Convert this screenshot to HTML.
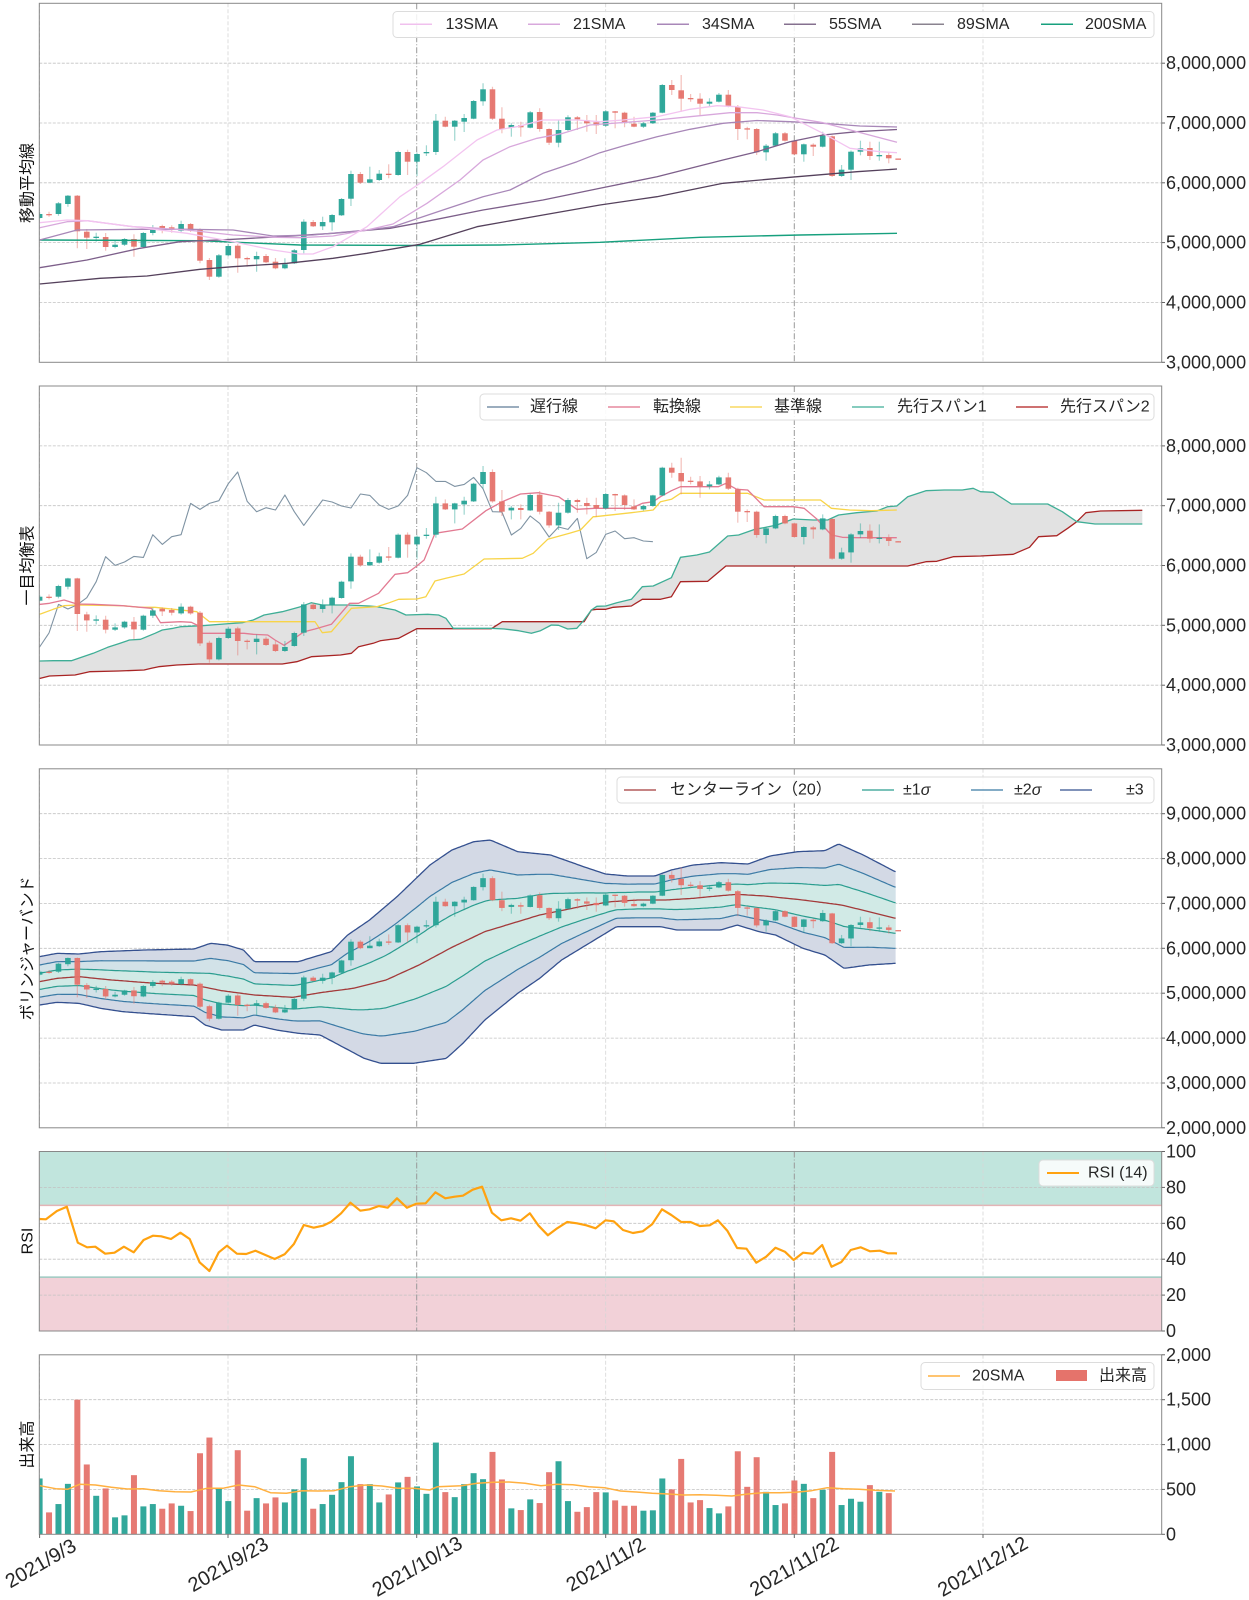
<!DOCTYPE html>
<html><head><meta charset="utf-8">
<style>
html,body{margin:0;padding:0;background:#fff;}
svg{display:block;font-family:"Liberation Sans","Noto Sans CJK JP",sans-serif;}
.tk{font-size:18px;fill:#262626;dominant-baseline:central;}
.lg{font-size:16px;fill:#262626;dominant-baseline:central;}
.yl{font-size:16px;fill:#111;}
.xl{font-size:20px;fill:#262626;}
</style></head><body>
<svg id="s" width="1249" height="1600" viewBox="0 0 1249 1600" xmlns="http://www.w3.org/2000/svg">
<defs>
<clipPath id="c1"><rect x="39.3" y="3.3" width="1122.4" height="359"/></clipPath>
<clipPath id="c2"><rect x="39.3" y="386" width="1122.4" height="359"/></clipPath>
<clipPath id="c3"><rect x="39.3" y="768.8" width="1122.4" height="359"/></clipPath>
<clipPath id="c4"><rect x="39.3" y="1151.5" width="1122.4" height="179.5"/></clipPath>
<clipPath id="c5"><rect x="39.3" y="1354.8" width="1122.4" height="179.5"/></clipPath>
</defs>
<rect x="0" y="0" width="1249" height="1600" fill="#fff"/>
<!-- RSI bands -->
<rect x="39.3" y="1151.5" width="1122.4" height="53.85" fill="#c1e5dd"/>
<rect x="39.3" y="1277.15" width="1122.4" height="53.85" fill="#f2d1d8"/>
<line x1="39.3" x2="1161.7" y1="1205.35" y2="1205.35" stroke="#e3b4b6" stroke-width="1.5"/>
<line x1="39.3" x2="1161.7" y1="1277.15" y2="1277.15" stroke="#9ccac2" stroke-width="1.5"/>
<g id="grid"></g>
<g id="g1" clip-path="url(#c1)"></g>
<g id="g2" clip-path="url(#c2)"></g>
<g id="g3" clip-path="url(#c3)"></g>
<g id="g4" clip-path="url(#c4)"></g>
<g id="g5" clip-path="url(#c5)"></g>
<g id="frames" fill="none" stroke="#888" stroke-width="1">
<rect x="39.3" y="3.3" width="1122.4" height="359"/>
<rect x="39.3" y="386" width="1122.4" height="359"/>
<rect x="39.3" y="768.8" width="1122.4" height="359"/>
<rect x="39.3" y="1151.5" width="1122.4" height="179.5"/>
<rect x="39.3" y="1354.8" width="1122.4" height="179.5"/>
</g>
<g id="ticks" stroke="#666" stroke-width="1"></g>

<!-- Y tick labels -->
<g>
<text class="tk" x="1166" y="63.2">8,000,000</text>
<text class="tk" x="1166" y="123">7,000,000</text>
<text class="tk" x="1166" y="182.8">6,000,000</text>
<text class="tk" x="1166" y="242.6">5,000,000</text>
<text class="tk" x="1166" y="302.5">4,000,000</text>
<text class="tk" x="1166" y="362.3">3,000,000</text>

<text class="tk" x="1166" y="445.9">8,000,000</text>
<text class="tk" x="1166" y="505.7">7,000,000</text>
<text class="tk" x="1166" y="565.5">6,000,000</text>
<text class="tk" x="1166" y="625.3">5,000,000</text>
<text class="tk" x="1166" y="685.2">4,000,000</text>
<text class="tk" x="1166" y="745">3,000,000</text>

<text class="tk" x="1166" y="813.7">9,000,000</text>
<text class="tk" x="1166" y="858.6">8,000,000</text>
<text class="tk" x="1166" y="903.4">7,000,000</text>
<text class="tk" x="1166" y="948.3">6,000,000</text>
<text class="tk" x="1166" y="993.2">5,000,000</text>
<text class="tk" x="1166" y="1038.1">4,000,000</text>
<text class="tk" x="1166" y="1083">3,000,000</text>
<text class="tk" x="1166" y="1127.8">2,000,000</text>

<text class="tk" x="1166" y="1151.5">100</text>
<text class="tk" x="1166" y="1187.4">80</text>
<text class="tk" x="1166" y="1223.3">60</text>
<text class="tk" x="1166" y="1259.2">40</text>
<text class="tk" x="1166" y="1295.1">20</text>
<text class="tk" x="1166" y="1331">0</text>

<text class="tk" x="1166" y="1354.8">2,000</text>
<text class="tk" x="1166" y="1399.7">1,500</text>
<text class="tk" x="1166" y="1444.6">1,000</text>
<text class="tk" x="1166" y="1489.4">500</text>
<text class="tk" x="1166" y="1534.3">0</text>
</g>

<!-- Y axis labels -->
<text class="yl" transform="translate(28,183) rotate(-90)" text-anchor="middle" dominant-baseline="central">移動平均線</text>
<text class="yl" transform="translate(28,565.5) rotate(-90)" text-anchor="middle" dominant-baseline="central">一目均衡表</text>
<text class="yl" transform="translate(28,948.3) rotate(-90)" text-anchor="middle" dominant-baseline="central">ボリンジャーバンド</text>
<text class="yl" transform="translate(28,1241) rotate(-90)" text-anchor="middle" dominant-baseline="central">RSI</text>
<text class="yl" transform="translate(28,1444.5) rotate(-90)" text-anchor="middle" dominant-baseline="central">出来高</text>

<!-- X labels -->
<text class="xl" transform="translate(41,1564) rotate(-30)" text-anchor="middle" dominant-baseline="central">2021/9/3</text>
<text class="xl" transform="translate(228.5,1565) rotate(-30)" text-anchor="middle" dominant-baseline="central">2021/9/23</text>
<text class="xl" transform="translate(417.5,1567) rotate(-30)" text-anchor="middle" dominant-baseline="central">2021/10/13</text>
<text class="xl" transform="translate(606,1565) rotate(-30)" text-anchor="middle" dominant-baseline="central">2021/11/2</text>
<text class="xl" transform="translate(794.5,1567) rotate(-30)" text-anchor="middle" dominant-baseline="central">2021/11/22</text>
<text class="xl" transform="translate(983,1567) rotate(-30)" text-anchor="middle" dominant-baseline="central">2021/12/12</text>

<!-- Legend P1 -->
<g>
<rect x="393" y="11.5" width="761" height="26" rx="4" fill="#fff" fill-opacity="0.85" stroke="#dcdcdc"/>
<line x1="400" x2="432" y1="24.3" y2="24.3" stroke="#f0c0ee" stroke-width="1.5"/>
<text class="lg" x="445.5" y="24.3">13SMA</text>
<line x1="528" x2="560" y1="24.3" y2="24.3" stroke="#d8a8dc" stroke-width="1.5"/>
<text class="lg" x="573" y="24.3">21SMA</text>
<line x1="657" x2="689" y1="24.3" y2="24.3" stroke="#a887b8" stroke-width="1.5"/>
<text class="lg" x="702" y="24.3">34SMA</text>
<line x1="784" x2="816" y1="24.3" y2="24.3" stroke="#85708f" stroke-width="1.5"/>
<text class="lg" x="829" y="24.3">55SMA</text>
<line x1="912" x2="944" y1="24.3" y2="24.3" stroke="#8a838f" stroke-width="1.5"/>
<text class="lg" x="957" y="24.3">89SMA</text>
<line x1="1041" x2="1073" y1="24.3" y2="24.3" stroke="#17a07e" stroke-width="1.5"/>
<text class="lg" x="1085" y="24.3">200SMA</text>
</g>
<!-- Legend P2 -->
<g>
<rect x="480" y="394" width="674" height="26" rx="4" fill="#fff" fill-opacity="0.85" stroke="#dcdcdc"/>
<line x1="487" x2="519" y1="407" y2="407" stroke="#5f7c96" stroke-width="1.3"/>
<text class="lg" x="530" y="407">遅行線</text>
<line x1="608" x2="640" y1="407" y2="407" stroke="#e0708a" stroke-width="1.3"/>
<text class="lg" x="653" y="407">転換線</text>
<line x1="730" x2="762" y1="407" y2="407" stroke="#f6d040" stroke-width="1.3"/>
<text class="lg" x="774" y="407">基準線</text>
<line x1="852" x2="884" y1="407" y2="407" stroke="#3fae96" stroke-width="1.3"/>
<text class="lg" x="897" y="407">先行スパン1</text>
<line x1="1016" x2="1048" y1="407" y2="407" stroke="#b01c1c" stroke-width="1.3"/>
<text class="lg" x="1060" y="407">先行スパン2</text>
</g>
<!-- Legend P3 -->
<g>
<rect x="617" y="777" width="537" height="26" rx="4" fill="#fff" fill-opacity="0.85" stroke="#dcdcdc"/>
<line x1="624" x2="656" y1="790" y2="790" stroke="#a33a3a" stroke-width="1.3"/>
<text class="lg" x="670" y="790">センターライン（20）</text>
<line x1="862" x2="894" y1="790" y2="790" stroke="#2a9d8f" stroke-width="1.3"/>
<text class="lg" x="903" y="790">±1<tspan font-style="italic">σ</tspan></text>
<line x1="971" x2="1003" y1="790" y2="790" stroke="#3a7aa5" stroke-width="1.3"/>
<text class="lg" x="1014" y="790">±2<tspan font-style="italic">σ</tspan></text>
<line x1="1060" x2="1092" y1="790" y2="790" stroke="#34508f" stroke-width="1.3"/>
<text class="lg" x="1126" y="790">±3</text>
</g>
<!-- Legend P4 -->
<g>
<rect x="1039" y="1160" width="115" height="26" rx="4" fill="#fff" fill-opacity="0.85" stroke="#dcdcdc"/>
<line x1="1047" x2="1079" y1="1173" y2="1173" stroke="#ffa210" stroke-width="2"/>
<text class="lg" x="1088" y="1173">RSI (14)</text>
</g>
<!-- Legend P5 -->
<g>
<rect x="921" y="1362.5" width="233" height="27" rx="4" fill="#fff" fill-opacity="0.85" stroke="#dcdcdc"/>
<line x1="928" x2="960" y1="1376" y2="1376" stroke="#ffb040" stroke-width="1.5"/>
<text class="lg" x="972" y="1376">20SMA</text>
<rect x="1056" y="1370" width="31" height="11" fill="#e5736b"/>
<text class="lg" x="1099" y="1376">出来高</text>
</g>
</svg>
<script>
(function(){
const NS='http://www.w3.org/2000/svg';
function el(tag,a,p){const e=document.createElementNS(NS,tag);for(const k in a)e.setAttribute(k,a[k]);p.appendChild(e);return e;}
function ptsStr(p){return p.map(q=>q[0].toFixed(1)+','+q[1].toFixed(1)).join(' ');}
function poly(p,a,g){return el('polyline',Object.assign({points:ptsStr(p),fill:'none','stroke-linejoin':'round'},a),g);}
function interp(p,x){if(x<=p[0][0])return p[0][1];for(let i=1;i<p.length;i++){if(x<=p[i][0]){const a=p[i-1],b=p[i];return a[1]+(b[1]-a[1])*(x-a[0])/(b[0]-a[0]);}}return p[p.length-1][1];}
function mono(p){const r=[];for(const q of p){if(!r.length||q[0]>r[r.length-1][0]+0.01)r.push(q);}return r;}

const X0=39.6,DX=9.435;const xi=i=>X0+i*DX;
const G='#27a396',R='#e5736b';
const C=[
[218,214,212,219],[214,214.5,211.7,216.7],[214,203.3,202,215.7],[204,195.7,195,206.7],[195.7,231.3,195,248.3],
[231.7,237.7,229,249],[238,236.7,232.7,241.7],[237,247,233,250.7],[247,244.7,240.7,248.3],[244.7,239,238,246],
[239,246.7,234.3,256.7],[247,233,232,248],[233,227.7,225,235.3],[226,228.7,224.7,233.3],[227.3,230,225.3,232.7],
[230.7,224,220.7,232],[224,230.7,223,232],[230,260.7,228.3,263.3],[260,276.7,258,280],[276.7,255.3,254,277.7],
[255.3,246,244,256.3],[245.7,258.3,244,272.7],[258,259.3,256.7,266.7],[259.3,256,251.7,271.7],[256,262.3,254,263.3],
[261.7,268.3,258,269.3],[268.3,264.3,258.3,269.3],[263.3,250.3,249,264],[250,221.7,219.3,253.3],[222,226.3,220,227],
[226.3,222,216.7,230],[222.3,215,214,230.7],[215.3,199,198,216],[198.7,174,170.7,206],[174,182.7,172,184],
[182.7,179.3,166.7,182.7],[180,173.7,170,181],[173.7,174.7,164.3,178.3],[175,152,150.7,175.7],[152,161.7,149.7,175],
[161.7,154,152.7,176],[153.3,152,145.3,156],[152,120.7,114,155],[120.7,126.7,116.7,127.3],[126.7,120.7,120,140.7],
[121.7,118,114,132],[118.7,101,100,119.3],[101.3,89.3,83.3,105.7],[89.3,118.7,86.7,120],[118.7,129,107.3,133.3],
[127.7,125,123.3,136.7],[125.3,127.3,121.7,136.7],[127.7,112.3,111,128.3],[112,129,108.3,131.7],[129,142.7,128.3,145],
[142.7,130,120,147.3],[130,117.3,115.3,131],[117.3,119.3,116,130],[120.3,123.3,115,131.7],[122.3,125.3,115,134],
[125.7,111.3,110,126.7],[111.3,112.7,111,128.3],[112.7,122.3,111.7,127.3],[123.7,126.7,116.7,127.3],[126.7,123.3,122,128],
[123.3,112.7,112,124],[112.7,85,84,113.3],[85,90,80,95],[90.3,98.7,75,111.7],[98,98.7,94,101.7],
[98.7,103.7,93.3,115],[103.7,101.7,98.3,106.7],[101.7,94.7,93,102.5],[94.7,106,90,107.3],[106.7,129,105,140],
[128.3,129.3,126.7,139.3],[129,152.3,128,155],[152.3,145.7,144,160.7],[145.7,133.3,132,146.5],[133.3,140.7,132,141.5],
[140.7,154.3,140,155],[154.3,144.3,143.5,161.7],[144.7,146.7,143.3,156],[146.7,135.7,131.7,147.5],[136.3,176,135.5,177],
[176,169.7,165,177],[169.7,151.7,150.5,180],[151.7,148.3,140.7,155.3],[148,156,141.7,160],[155.7,155,141.7,160.7],
[155,158.3,151.7,163.3],[158.5,159,158.5,159]
];
const V=[622,244,337,562,1500,778,429,511,189,211,659,311,337,285,344,318,259,903,1078,511,370,937,263,403,344,411,355,500,848,285,337,440,581,870,559,559,355,444,578,640,533,451,1022,470,414,559,681,614,918,611,289,270,389,348,692,814,370,251,303,470,467,378,318,318,263,267,622,500,840,355,381,292,233,311,925,529,859,473,326,344,600,562,403,496,918,326,396,363,548,473,459];

const P1=y=>y, P2=y=>y+382.7;
const toV=y=>3+(362.3-y)/59.83;
const P3=y=>1127.8-(toV(y)-2)*44.875;

const grid=document.getElementById('grid');
const g1=document.getElementById('g1'),g2=document.getElementById('g2'),g3=document.getElementById('g3'),g4=document.getElementById('g4'),g5=document.getElementById('g5');
const ticks=document.getElementById('ticks');

// grid
const panels=[[3.3,362.3,[63.2,123,182.8,242.6,302.5]],[386,745,[445.9,505.7,565.5,625.3,685.2]],
[768.8,1127.8,[813.7,858.6,903.4,948.3,993.2,1038.1,1083]],[1151.5,1331,[1187.4,1223.3,1259.2,1295.1]],[1354.8,1534.3,[1399.7,1444.6,1489.4]]];
const vx=[39.6,228,416.7,605.7,794.3,983];
const allTicks=[[63.2,123,182.8,242.6,302.5,362.3],[445.9,505.7,565.5,625.3,685.2,745],[813.7,858.6,903.4,948.3,993.2,1038.1,1083,1127.8],[1151.5,1187.4,1223.3,1259.2,1295.1,1331],[1354.8,1399.7,1444.6,1489.4,1534.3]];
panels.forEach((p,k)=>{
  p[2].forEach(y=>el('line',{x1:39.3,x2:1161.7,y1:y,y2:y,stroke:'#c2c2c2','stroke-width':0.8,'stroke-dasharray':'3 1.5'},grid));
  vx.forEach((x,j)=>{const dark=(j==2||j==4);el('line',{x1:x,x2:x,y1:p[0],y2:p[1],stroke:dark?'#999':'#d6d6d6','stroke-width':dark?1:0.8,'stroke-dasharray':dark?'6 2 1 2':'4 2'},grid);});
  allTicks[k].forEach(y=>el('line',{x1:1161.7,x2:1165,y1:y,y2:y},ticks));
});
vx.forEach(x=>el('line',{x1:x,x2:x,y1:1534.3,y2:1538,stroke:'#666'},ticks));

function candles(g,map,bw){
  for(let i=0;i<C.length;i++){
    const [o,c,h,l]=C[i];const x=xi(i);const col=c<o?G:R;
    el('line',{x1:x,x2:x,y1:map(h),y2:map(l),stroke:col,'stroke-opacity':0.45,'stroke-width':1.2},g);
    const a=map(o),b=map(c);const yt=Math.min(a,b),yb=Math.max(a,b);
    el('rect',{x:x-bw/2,y:yt,width:bw,height:Math.max(yb-yt,1.3),fill:col,'fill-opacity':0.95},g);
  }
}

// ---------- Panel 1 : SMAs ----------
candles(g1,P1,5.6);
const S13=[[39.6,222.7],[67,220],[87,220.7],[133,226.7],[187,233.3],[233,241.7],[273,250],[300,254],[313,254],[333,246.7],[367,226.7],[400,196.7],[420,183.3],[443,166.7],[477,140],[497,130],[517,126.7],[543,120],[577,120],[600,121.7],[623,120],[657,116.7],[690,109.3],[717,105.7],[737,106.7],[763,110],[790,116.7],[823,133.3],[850,148.3],[880,151.7],[897,152.7]];
const S21=[[39.6,227.7],[67,221.7],[87,220.7],[133,226.7],[187,230],[233,235],[277,237.3],[300,237.7],[333,236],[367,230],[393,224],[427,203.3],[460,180],[483,160],[510,146.7],[537,138.3],[563,133.3],[590,125],[657,120],[690,116.7],[730,112.7],[757,112.7],[777,115],[823,122.7],[857,131.7],[897,142.3]];
const S34=[[39.6,240],[77,230],[140,229.3],[187,229.3],[233,230],[273,236],[313,235],[367,230],[393,226.7],[443,210],[483,196.7],[510,190],[543,173.3],[577,161.7],[600,152.7],[623,146],[657,136.7],[690,129.3],[723,123.3],[757,120.5],[790,121.7],[823,123.3],[860,126],[897,127]];
const S55=[[39.6,267.7],[87,260],[140,248.3],[180,241.7],[233,239.3],[280,236.7],[333,233.3],[390,228.3],[420,222.7],[483,210],[543,200],[600,188.3],[657,176.7],[723,160],[757,151.7],[790,141.7],[823,135],[857,131.7],[897,129.5]];
const S89=[[39.6,284],[100,278.3],[147,276],[200,269.3],[233,266.7],[287,263.3],[333,258.3],[367,253.3],[420,244.3],[477,226.7],[543,215],[600,205],[657,196.7],[723,183.3],[790,177.3],[857,171.7],[897,169]];
const S200=[[39.6,240],[200,240.7],[300,245],[420,245.5],[500,245],[600,242.3],[700,237.3],[800,235],[897,233.3]];
poly(S200,{stroke:'#17a07e','stroke-width':1.4},g1);
poly(S89,{stroke:'#55415c','stroke-width':1.3},g1);
poly(S55,{stroke:'#7d5f8a','stroke-width':1.3},g1);
poly(S34,{stroke:'#a887b8','stroke-width':1.3},g1);
poly(S21,{stroke:'#d8a8dc','stroke-width':1.3},g1);
poly(S13,{stroke:'#f3c4f0','stroke-width':1.3},g1);

// ---------- Panel 2 : Ichimoku ----------
const z8=p=>[35+p[0]/2.75,440+p[1]/3], z9=p=>[595+p[0]/2.75,440+p[1]/3];
function merge(a,b){const r=mono(a.map(z8).concat(b.map(z9)));r.unshift([39.3,r[0][1]]);return r;}
const TK=merge([[15,493],[40,490],[80,480],[115,492],[160,493],[240,497],[290,502],[320,505],[345,548],[400,545],[430,547],[445,555],[460,580],[520,580],[575,580],[600,583],[640,585],[660,600],[685,616],[700,605],[740,575],[770,567],[815,553],[865,490],[890,490],[945,460],[990,403],[1025,398],[1050,378],[1070,360],[1100,280],[1175,267],[1240,212],[1285,185],[1335,162],[1385,158],[1440,170],[1490,208],[1540,205]],
[[30,205],[100,205],[130,190],[160,185],[180,170],[210,152],[235,140],[290,140],[340,140],[360,130],[390,148],[420,150],[465,200],[545,200],[575,205],[610,237],[650,285],[680,292],[720,293],[830,293]]);
const KJ=merge([[15,522],[50,508],[80,497],[115,495],[240,497],[290,502],[330,502],[445,515],[480,545],[560,545],[770,545],[790,578],[815,575],[870,505],[940,500],[970,490],[1000,478],[1050,477],[1075,470],[1100,423],[1130,415],[1180,402],[1235,357],[1340,355],[1370,340],[1410,298],[1470,280],[1500,270],[1535,230]],
[[0,230],[100,218],[160,210],[180,185],[210,178],[235,160],[420,160],[465,180],[620,180],[650,205],[700,210],[760,212],[830,210]]);
const SA=merge([[15,663],[50,662],[100,662],[120,655],[160,640],[200,622],[230,611],[260,600],[290,598],[330,580],[350,570],[380,565],[400,560],[460,557],[520,552],[570,548],[600,540],[630,525],[680,515],[730,500],[760,488],[790,495],[860,495],[920,498],[940,500],[990,510],[1020,525],[1080,523],[1110,525],[1130,535],[1150,565],[1255,565],[1290,567],[1330,572],[1365,580],[1390,572],[1420,555],[1440,556],[1465,567],[1490,565],[1510,540],[1530,510],[1545,499]],
[[0,500],[30,498],[60,488],[100,478],[130,440],[160,438],[210,413],[235,352],[280,345],[315,336],[365,288],[395,285],[440,268],[470,262],[500,255],[545,237],[600,240],[640,240],[670,225],[720,218],[775,213],[805,200],[830,198],[860,170],[910,152],[960,150],[1010,150],[1040,145],[1060,155],[1095,157],[1145,192],[1245,192],[1285,215],[1325,245],[1375,252],[1505,252]]);
const SB=merge([[15,715],[40,708],[110,705],[150,695],[230,693],[300,690],[320,685],[340,680],[390,675],[450,672],[680,672],[720,665],[760,650],[840,645],[870,640],[890,620],[930,610],[950,602],[1000,595],[1050,566],[1255,566],[1285,545],[1510,545],[1530,510],[1545,508]],
[[0,510],[30,508],[50,502],[100,498],[130,478],[180,478],[210,470],[235,425],[310,424],[360,378],[860,378],[910,365],[940,364],[985,350],[1060,348],[1150,343],[1195,322],[1220,290],[1270,287],[1300,265],[1325,245],[1350,218],[1390,213],[1505,211]]);
{const up=[],dn=[];const xe=Math.min(SA[SA.length-1][0],SB[SB.length-1][0]);
 for(let x=39.3;x<=xe;x+=2){up.push([x,interp(SA,x)]);dn.push([x,interp(SB,x)]);}
 up.push([xe,interp(SA,xe)]);dn.push([xe,interp(SB,xe)]);
 el('polygon',{points:ptsStr(up.concat(dn.reverse())),fill:'#e2e2e2'},g2);}
poly(SB,{stroke:'#a82424','stroke-width':1.3},g2);
poly(SA,{stroke:'#3fae96','stroke-width':1.3},g2);
{const ch=[];for(let i=0;i+26<C.length;i++)ch.push([xi(i),C[i+26][1]+382.7]);poly(ch,{stroke:'#7f93a3','stroke-width':1.1},g2);}
poly(KJ,{stroke:'#f8d448','stroke-width':1.3},g2);
poly(TK,{stroke:'#e27a92','stroke-width':1.3},g2);
candles(g2,P2,5.6);

// ---------- Panel 3 : Bollinger ----------
const z10=p=>[35+p[0]/1.823,800+p[1]/3];
const U3=[[8,470],[40,460],[80,462],[120,455],[200,450],[290,447],[320,430],[350,435],[380,450],[400,485],[480,485],[540,455],[570,405],[610,360],[660,290],[720,195],[760,150],[800,125],[830,120],[880,155],[940,165],[1000,200],[1040,222],[1080,228],[1130,228],[1160,210],[1200,195],[1250,188],[1300,192],[1340,168],[1390,155],[1440,152],[1465,132],[1510,165],[1568,215]].map(z10);
const L3=[[8,615],[40,607],[80,610],[120,625],[160,635],[200,640],[290,650],[310,675],[340,690],[380,690],[400,675],[440,690],[480,700],[520,705],[560,740],[600,775],[630,790],[690,790],[750,775],[780,730],[820,660],[880,580],[920,535],[960,480],[1000,440],[1040,400],[1060,380],[1140,380],[1170,390],[1250,390],[1280,375],[1320,395],[1350,405],[1400,445],[1440,465],[1475,505],[1520,495],[1568,490]].map(z10);
const CT=[[8,545],[40,535],[80,530],[140,540],[220,550],[290,555],[340,572],[400,585],[470,592],[520,578],[580,565],[640,540],[700,495],[760,442],[820,395],[880,365],[920,345],[1000,318],[1050,305],[1100,300],[1150,300],[1200,295],[1250,287],[1280,283],[1330,288],[1400,300],[1470,315],[1520,335],[1568,355]].map(z10);
{const xs=[];for(let x=39.6;x<=897;x+=2)xs.push(x);
 const L={};for(let k=-3;k<=3;k++)L[k]=[];
 xs.forEach(x=>{const c=interp(CT,x),u=interp(U3,x),l=interp(L3,x);
  for(let k=1;k<=3;k++){L[k].push([x,c+(u-c)*k/3]);L[-k].push([x,c+(l-c)*k/3]);}L[0].push([x,c]);});
 const band=(a,b,f)=>el('polygon',{points:ptsStr(a.concat(b.slice().reverse())),fill:f},g3);
 band(L[3],L[-3],'#d3d9e5');
 band(L[2],L[-2],'#d2e2e8');
 band(L[1],L[-1],'#d1eae6');
 poly(L[3],{stroke:'#34508f','stroke-width':1.3},g3);poly(L[-3],{stroke:'#34508f','stroke-width':1.3},g3);
 poly(L[2],{stroke:'#3a7aa5','stroke-width':1.2},g3);poly(L[-2],{stroke:'#3a7aa5','stroke-width':1.2},g3);
 poly(L[1],{stroke:'#2a9d8f','stroke-width':1.2},g3);poly(L[-1],{stroke:'#2a9d8f','stroke-width':1.2},g3);
 poly(L[0],{stroke:'#a33a3a','stroke-width':1.3},g3);}
candles(g3,P3,5.6);

// ---------- Panel 4 : RSI ----------
const z11=p=>[35+p[0]/1.823,1140+p[1]/3];
const RS=[[8,237],[20,238],[40,213],[58,200],[78,308],[95,322],[110,320],[128,341],[145,338],[162,320],[180,337],[198,300],[215,287],[230,289],[248,297],[265,278],[282,297],[300,367],[318,393],[335,337],[350,317],[368,341],[385,342],[402,332],[420,345],[437,357],[455,343],[472,312],[490,255],[508,263],[525,257],[540,245],[558,220],[575,188],[593,212],[610,208],[627,198],[643,203],[660,175],[678,203],[695,191],[712,190],[730,157],[748,175],[765,170],[780,167],[798,149],[815,140],[833,218],[850,241],[868,235],[885,242],[902,220],[918,257],[935,286],[952,265],[970,246],[988,250],[1005,256],[1022,265],[1040,241],[1055,244],[1072,270],[1090,279],[1108,274],[1125,253],[1143,208],[1160,225],[1178,246],[1195,246],[1212,258],[1230,256],[1245,241],[1262,272],[1280,324],[1297,326],[1315,368],[1333,350],[1350,323],[1367,335],[1383,360],[1400,338],[1418,341],[1435,315],[1452,380],[1470,366],[1487,330],[1505,322],[1522,334],[1540,332],[1555,340],[1568,340]].map(z11);
RS.push([897,1253.5]);
poly(RS,{stroke:'#ffa210','stroke-width':2.2},g4);

// ---------- Panel 5 : Volume ----------
for(let i=0;i<V.length;i++){const [o,c]=C[i];const col=c<o?G:R;const y=1534.3-V[i]*0.08975;
 el('rect',{x:xi(i)-3,y:y,width:6,height:1534.3-y,fill:col,'fill-opacity':0.95},g5);}
const z7=p=>[p[0]/1.257,1300+p[1]/3];
const VS=[[50,557],[70,566],[85,568],[100,553],[120,555],[140,562],[160,567],[180,566],[200,572],[220,575],[240,576],[260,565],[280,565],[300,555],[320,560],[340,578],[360,580],[380,572],[400,573],[420,572],[440,560],[460,555],[480,558],[500,565],[520,565],[540,570],[550,560],[580,557],[600,550],[620,547],[640,546],[660,550],[680,557],[700,553],[720,554],[740,560],[760,563],[780,573],[800,576],[820,580],[840,582],[860,585],[880,584],[900,586],[920,588],[940,582],[960,578],[980,578],[1000,577],[1020,572],[1040,563],[1060,566],[1080,568],[1100,571],[1125,573]].map(z7);
poly(VS,{stroke:'#ffb040','stroke-width':1.5},g5);
})();
</script>
</body></html>
